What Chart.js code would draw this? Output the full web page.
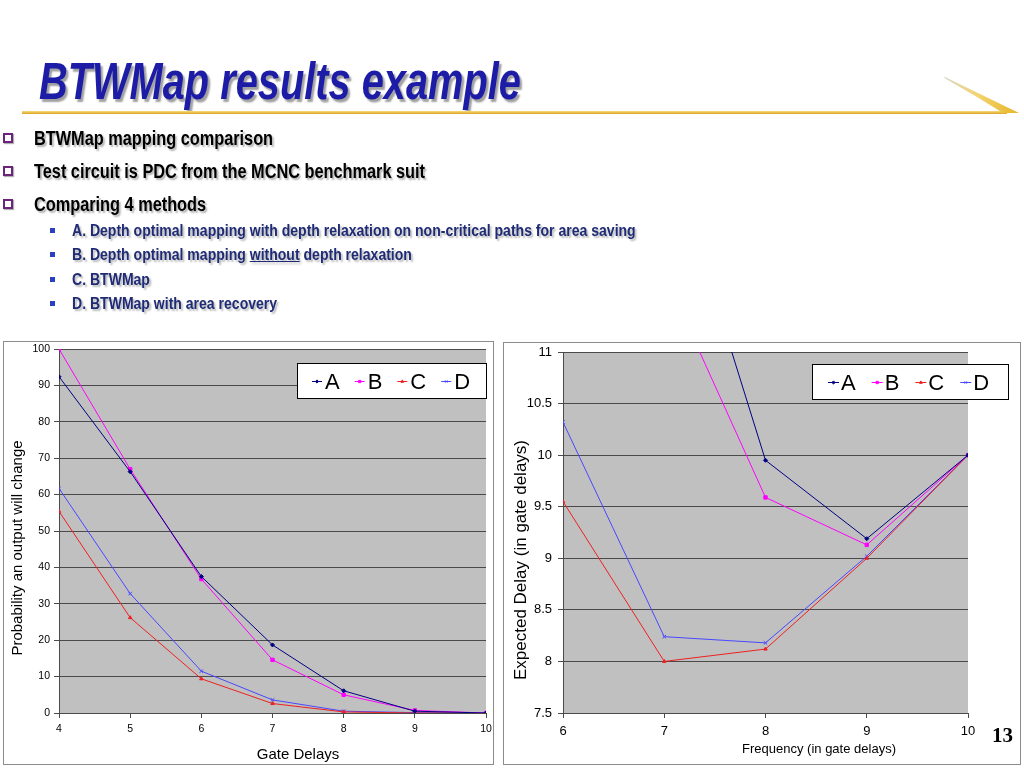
<!DOCTYPE html>
<html>
<head>
<meta charset="utf-8">
<script src="https://cdn.jsdelivr.net/npm/chart.js"></script>
<style>
  html, body { margin: 0; padding: 0; }
  body { width: 1024px; height: 768px; background: #fff; position: relative; overflow: hidden;
         font-family: "Liberation Sans", Arial, sans-serif; }
  .title { position: absolute; left: 39px; top: 56px; line-height: 51px; font-size: 51px;
           font-family: "Liberation Sans", Arial, sans-serif;
           font-weight: bold; font-style: italic; color: #1c1ca6; white-space: nowrap;
           text-shadow: 3px 3px 2px #a0a0a0; transform: scaleX(0.78); transform-origin: 0 0; }
  .rule { position: absolute; left: 22px; top: 111px; width: 985px; height: 3px;
          background: linear-gradient(#f7dc7c, #dca524); }
  .b1 { position: absolute; left: 34px; font-size: 20px; line-height: 20px;
        font-family: "Liberation Sans", Arial, sans-serif; transform: scaleX(0.815); transform-origin: 0 0;
        font-weight: bold; color: #000; white-space: nowrap; text-shadow: 2px 2px 2px #b0b0b0; }
  .sq { position: absolute; left: 3px; width: 6px; height: 6px; border: 2px solid #6b2479;
        box-shadow: 1px 1px 1px #b0b0b0; }
  .b2 { position: absolute; left: 72px; font-size: 16px; line-height: 16px;
        font-family: "Liberation Sans", Arial, sans-serif; transform: scaleX(0.877); transform-origin: 0 0;
        font-weight: bold; color: #1f2b75; white-space: nowrap; text-shadow: 2px 2px 2px #b8b8b8; }
  .dot { position: absolute; left: 50px; width: 5px; height: 5px; background: #2a3fc4; }
  .u { text-decoration: underline; }
  .box { position: absolute; border: 1px solid #8c8c8c; background: #fff; }
  .pg { position: absolute; left: 992px; top: 723px; font-family: "Liberation Serif", "Times New Roman", serif;
        font-weight: bold; font-size: 21px; color: #000; }
</style>
</head>
<body>

<div class="title">BTWMap results example</div>
<div class="rule"></div>
<svg style="position:absolute;left:0;top:0" width="1024" height="130">
  <defs>
    <linearGradient id="gw" x1="0" y1="0" x2="1" y2="0">
      <stop offset="0" stop-color="#d8d8d0"/>
      <stop offset="0.45" stop-color="#f3d470"/>
      <stop offset="1" stop-color="#e7b526"/>
    </linearGradient>
  </defs>
  <polygon points="943,76 1019,113 1003,113 977,97 946,79" fill="url(#gw)"/>
</svg>

<div class="sq" style="top:133px"></div>
<div class="b1" style="top:128px">BTWMap mapping comparison</div>
<div class="sq" style="top:166px"></div>
<div class="b1" style="top:161px">Test circuit is PDC from the MCNC benchmark suit</div>
<div class="sq" style="top:199px"></div>
<div class="b1" style="top:194px">Comparing 4 methods</div>

<div class="dot" style="top:228px"></div>
<div class="b2" style="top:223px">A. Depth optimal mapping with depth relaxation on non-critical paths for area saving</div>
<div class="dot" style="top:252px"></div>
<div class="b2" style="top:247px">B. Depth optimal mapping <span class="u">without</span> depth relaxation</div>
<div class="dot" style="top:277px"></div>
<div class="b2" style="top:272px">C. BTWMap</div>
<div class="dot" style="top:301px"></div>
<div class="b2" style="top:296px">D. BTWMap with area recovery</div>

<div class="box" style="left:3px;top:341px;width:489px;height:422px;">
  <canvas id="c1"></canvas>
</div>
<div class="box" style="left:503px;top:342px;width:516px;height:421px;">
  <canvas id="c2"></canvas>
</div>
<div class="pg">13</div>

<script>
// ---------- Data ----------
const seriesNames = ['A', 'B', 'C', 'D'];

// Left chart: probability an output will change vs gate delays
const gateDelays = [4, 5, 6, 7, 8, 9, 10];
const probA = [92.4, 66.3, 37.5, 18.7, 6.1, 0.5, 0];
const probB = [100, 67.0, 36.8, 14.6, 5.0, 0.7, 0];
const probC = [55.4, 26.2, 9.4, 2.6, 0.3, 0.0, 0];
const probD = [61.7, 32.8, 11.5, 3.6, 0.5, 0.1, 0];

// Right chart: expected delay vs frequency (A and B leave the top of the plot)
const frequency = [6, 7, 8, 9, 10];
const delayA = [14.5, 13.1, 9.95, 9.19, 10.0];
const delayB = [12.9, 11.76, 9.59, 9.13, 10.0];
const delayC = [9.55, 8.0, 8.12, 9.0, 10.0];
const delayD = [10.32, 8.24, 8.18, 9.02, 10.0];

const probTicks = { min: 0, max: 100, step: 10 };
const delayTicks = { min: 7.5, max: 11, step: 0.5 };

const leftTitles = { x: 'Gate Delays', y: 'Probability an output will change' };
const rightTitles = { x: 'Frequency (in gate delays)', y: 'Expected Delay (in gate delays)' };

// ---------- Styles ----------
const colors = ['#000080', '#ff00ff', '#ee2020', '#4848ff'];
const markers = ['rectRot', 'rect', 'triangle', 'crossRot'];
const markerSizes = [2, 2.4, 2, 2.5];
const gridColor = '#4a4a4a';
const FONT = '"Liberation Sans", Arial, sans-serif';

function makeDatasets(xs, seriesList) {
  return seriesList.map((ys, i) => ({
    label: seriesNames[i],
    data: xs.map((x, k) => ({ x: x, y: ys[k] })),
    borderColor: colors[i],
    backgroundColor: colors[i],
    borderWidth: 1,
    pointStyle: markers[i],
    pointRadius: markerSizes[i],
    pointBorderWidth: 1,
    pointBorderColor: colors[i],
    pointBackgroundColor: colors[i],
    tension: 0,
    fill: false
  }));
}

const plotBg = {
  id: 'plotBg',
  beforeDraw(chart, args, o) {
    const { ctx, chartArea: a } = chart;
    ctx.save();
    ctx.fillStyle = o.color;
    ctx.fillRect(a.left, a.top, a.right - a.left, a.bottom - a.top);
    ctx.restore();
  }
};

const axisTitles = {
  id: 'axisTitles',
  afterDraw(chart, args, o) {
    const ctx = chart.ctx;
    ctx.save();
    ctx.fillStyle = '#000';
    ctx.textAlign = 'center';
    ctx.textBaseline = 'middle';
    ctx.font = o.xFont + 'px ' + FONT;
    ctx.fillText(o.xText, o.xPos[0], o.xPos[1]);
    ctx.translate(o.yPos[0], o.yPos[1]);
    ctx.rotate(-Math.PI / 2);
    ctx.font = o.yFont + 'px ' + FONT;
    ctx.fillText(o.yText, 0, 0);
    ctx.restore();
  }
};

function drawMarker(ctx, style, r, x, y) {
  if (Chart.helpers && Chart.helpers.drawPoint) {
    Chart.helpers.drawPoint(ctx, { pointStyle: style, radius: r, borderWidth: 1, rotation: 0 }, x, y);
  } else {
    ctx.fillRect(x - r, y - r, 2 * r, 2 * r);
  }
}

const boxLegend = {
  id: 'boxLegend',
  afterDraw(chart, args, o) {
    const ctx = chart.ctx;
    ctx.save();
    ctx.fillStyle = '#ffffff';
    ctx.fillRect(o.x, o.y, o.w, o.h);
    ctx.strokeStyle = '#000000';
    ctx.lineWidth = 1;
    ctx.strokeRect(o.x + 0.5, o.y + 0.5, o.w - 1, o.h - 1);
    ctx.font = o.fontSize + 'px ' + FONT;
    ctx.textBaseline = 'middle';
    ctx.textAlign = 'left';
    let cx = o.x + o.pad;
    const cy = o.y + o.h / 2 + 0.5;
    chart.data.datasets.forEach((ds) => {
      ctx.strokeStyle = ds.borderColor;
      ctx.fillStyle = ds.borderColor;
      ctx.lineWidth = 1;
      ctx.beginPath();
      ctx.moveTo(cx, cy);
      ctx.lineTo(cx + o.sample, cy);
      ctx.stroke();
      drawMarker(ctx, ds.pointStyle, 1.6, cx + o.sample / 2, cy);
      ctx.fillStyle = '#000';
      const tx = cx + o.sample + o.gap1;
      ctx.fillText(ds.label, tx, cy + 1);
      cx = tx + ctx.measureText(ds.label).width + o.gap2;
    });
    ctx.restore();
  }
};

function trimNum(v) { return String(Math.round(v * 100) / 100); }

function buildChart(id, cfg) {
  return new Chart(document.getElementById(id), {
    type: 'line',
    data: { datasets: cfg.datasets },
    options: {
      responsive: true,
      maintainAspectRatio: false,
      animation: false,
      events: [],
      layout: { padding: cfg.padding },
      plugins: {
        legend: { display: false },
        tooltip: { enabled: false },
        plotBg: { color: '#c0c0c0' },
        boxLegend: cfg.legend,
        axisTitles: cfg.titles
      },
      scales: {
        x: {
          type: 'linear',
          min: cfg.xMin, max: cfg.xMax,
          ticks: { stepSize: 1, color: '#000', font: { size: cfg.xTickFont, family: FONT },
                   padding: cfg.xTickPad, maxRotation: 0, callback: trimNum },
          grid: { drawOnChartArea: false, drawTicks: true, tickLength: 5, color: gridColor },
          border: { display: true, color: gridColor, width: 1 },
          title: { display: false },
          afterFit(scale) { scale.height = cfg.xAxisH; scale.paddingLeft = 0; scale.paddingRight = 0; }
        },
        y: {
          min: cfg.yRange.min, max: cfg.yRange.max,
          ticks: { stepSize: cfg.yRange.step, color: '#000', font: { size: cfg.yTickFont, family: FONT },
                   padding: cfg.yTickPad, callback: trimNum },
          grid: { drawTicks: true, tickLength: 5, color: gridColor, lineWidth: 1 },
          border: { display: true, color: gridColor, width: 1 },
          title: { display: false },
          afterFit(scale) { scale.width = cfg.yAxisW; scale.paddingTop = 0; scale.paddingBottom = 0; }
        }
      }
    },
    plugins: [plotBg, boxLegend, axisTitles]
  });
}

buildChart('c1', {
  datasets: makeDatasets(gateDelays, [probA, probB, probC, probD]),
  padding: { top: 7, right: 7, left: 0, bottom: 0 },
  xMin: 4, xMax: 10, xTickFont: 10.5, xTickPad: 5, xAxisH: 51,
  yRange: probTicks, yTickFont: 10.5, yTickPad: 4, yAxisW: 55,
  titles: { xText: leftTitles.x, xFont: 15, xPos: [294, 413], yText: leftTitles.y, yFont: 15, yPos: [14, 206] },
  legend: { x: 293, y: 21, w: 190, h: 36, pad: 15, sample: 10, gap1: 3, gap2: 15, fontSize: 22 }
});

buildChart('c2', {
  datasets: makeDatasets(frequency, [delayA, delayB, delayC, delayD]),
  padding: { top: 9, right: 52, left: 0, bottom: 0 },
  xMin: 6, xMax: 10, xTickFont: 13, xTickPad: 6, xAxisH: 51,
  yRange: delayTicks, yTickFont: 13, yTickPad: 6, yAxisW: 59,
  titles: { xText: rightTitles.x, xFont: 13, xPos: [315, 406], yText: rightTitles.y, yFont: 17, yPos: [17, 217] },
  legend: { x: 308, y: 21, w: 197, h: 36, pad: 16, sample: 11, gap1: 2, gap2: 16, fontSize: 22 }
});
</script>
</body>
</html>
